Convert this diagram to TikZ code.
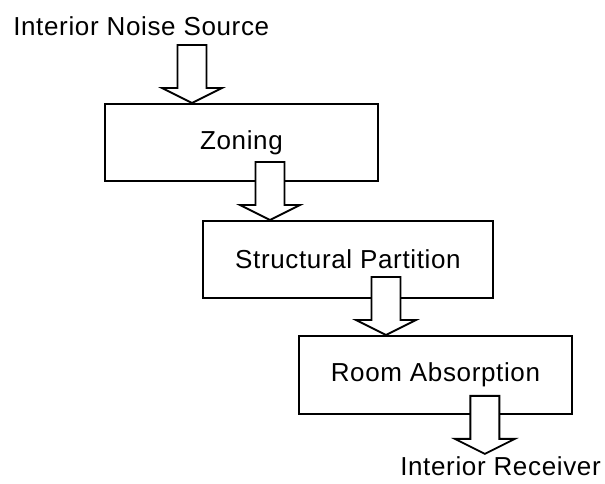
\documentclass[tikz,border=0pt]{standalone}
\usepackage{fontspec}
\setmainfont{Liberation Sans}[LetterSpace=2.5]
\usetikzlibrary{calc}

\tikzset{
  stagebox/.style={draw=black, line width=1.4pt, fill=white, inner sep=0pt,
    font=\fontsize{19.5}{23}\selectfont, anchor=north west},
  label/.style={inner sep=0pt, font=\fontsize{19.5}{23}\selectfont},
  % hollow block arrow, tip at the pic origin, pointing down
  blockarrow/.pic={
    \draw[line width=1.4pt, fill=white, line join=miter]
      (0,0) -- (30,-15) -- (14.5,-15) -- (14.5,-58) -- (-14.5,-58)
      -- (-14.5,-15) -- (-30,-15) -- cycle;
  }
}

\begin{document}
\begin{tikzpicture}[x=0.75pt, y=-0.75pt]
  \useasboundingbox (0,0) rectangle (605,483);

  % source and receiver labels
  \node[label, anchor=base west] (src) at (13,35) {Interior Noise Source};
  \node[label, anchor=base east] (rcv) at (601,475) {Interior Receiver};

  % the three stages
  \node[stagebox, minimum width=204.75pt, minimum height=57.75pt] (zoning) at (104,103) {Zoning};
  \node[stagebox, minimum width=217.5pt, minimum height=57.75pt] (partition) at (202,220) {Structural Partition};
  \node[stagebox, minimum width=204.75pt, minimum height=58.5pt] (absorption) at (298,335) {Room Absorption};

  % arrow tips
  \coordinate (t1) at ($(zoning.north west)+(88,0)$);
  \coordinate (t2) at ($(partition.north west)+(68,0)$);
  \coordinate (t3) at ($(absorption.north west)+(88,0)$);
  \coordinate (t4) at ($(absorption.south east)+(-88,39)$);

  \pic at (t1) {blockarrow};
  \pic at (t2) {blockarrow};
  \pic at (t3) {blockarrow};
  \pic at (t4) {blockarrow};
\end{tikzpicture}
\end{document}
